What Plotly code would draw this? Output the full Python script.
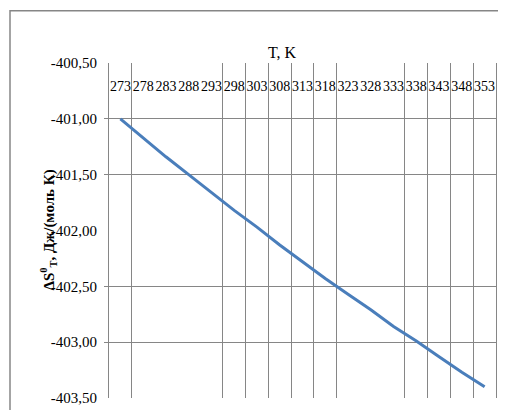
import plotly.graph_objects as go

temperatures = ["273", "278", "283", "288", "293", "298", "303", "308", "313",
                "318", "323", "328", "333", "338", "343", "348", "353"]
delta_s = [-401.00, -401.17, -401.34, -401.50, -401.66, -401.82, -401.97, -402.13,
           -402.28, -402.43, -402.57, -402.71, -402.86, -402.99, -403.13, -403.27, -403.40]

y_ticks = [-400.5, -401.0, -401.5, -402.0, -402.5, -403.0, -403.5]
y_tick_text = ["-400,50", "-401,00", "-401,50", "-402,00", "-402,50", "-403,00", "-403,50"]
y_grid = [-401.0, -401.5, -402.5, -403.0]
x_grid = [0.5, 4.5, 5.5, 6.5, 7.5, 8.5, 9.5, 12.5, 13.5, 14.5, 15.5]

W, H = 506, 410
L, R, T, B = 101, 18, 55, 15
pw, ph = W - L - R, H - T - B

def px(x):
    return (x - L) / pw

def py(y):
    return (H - B - y) / ph

serif = "Liberation Serif"
grey = "#868686"

fig = go.Figure()
fig.add_trace(go.Scatter(x=temperatures, y=delta_s, mode="lines",
                         line=dict(color="#4A7EBB", width=3),
                         xaxis="x", yaxis="y", showlegend=False))
fig.add_trace(go.Scatter(x=[None], y=[None], xaxis="x2", yaxis="y2", showlegend=False,
                         hoverinfo="skip"))

fig.update_layout(
    width=W, height=H,
    margin=dict(l=L, r=R, t=T, b=B),
    paper_bgcolor="white", plot_bgcolor="white",
    font=dict(family=serif, size=14, color="black"),
    xaxis=dict(type="category", range=[-0.5, 16.5], side="top", anchor="free",
               position=py(86), showgrid=False, showline=False, ticks="",
               tickangle=0, zeroline=False, tickfont=dict(family=serif, size=14)),
    xaxis2=dict(type="linear", overlaying="x", range=[-0.5, 16.5], tickvals=x_grid,
                showticklabels=False, showgrid=True, gridcolor=grey, gridwidth=1,
                showline=False, zeroline=False, ticks=""),
    yaxis=dict(range=[-403.5, -400.5], tickvals=y_ticks, ticktext=y_tick_text,
               showgrid=False, showline=True, mirror=True, linecolor=grey, linewidth=1,
               ticks="outside", ticklen=8, tickcolor="rgba(0,0,0,0)",
               zeroline=False, tickfont=dict(family=serif, size=15)),
    yaxis2=dict(range=[-403.5, -400.5], overlaying="y", anchor="x", side="left",
                tickvals=y_grid, showticklabels=False, showgrid=True, gridcolor=grey,
                gridwidth=1, ticks="outside", ticklen=4, tickcolor=grey, showline=False,
                zeroline=False),
    annotations=[
        dict(text="T, K", xref="paper", yref="paper", x=px(274), y=py(34),
             showarrow=False, font=dict(family=serif, size=16)),
        dict(text="<b>ΔS<sup>0</sup><sub>T</sub>, Дж/(моль К)</b>", xref="paper", yref="paper",
             x=px(28), y=0.5, textangle=-90, showarrow=False,
             font=dict(family=serif, size=15)),
    ],
    shapes=[
        dict(type="rect", xref="paper", yref="paper", x0=px(2), x1=px(504),
             y0=py(408), y1=py(2), line=dict(color=grey, width=1.5), layer="below"),
    ],
)

fig.write_html("out.html")
